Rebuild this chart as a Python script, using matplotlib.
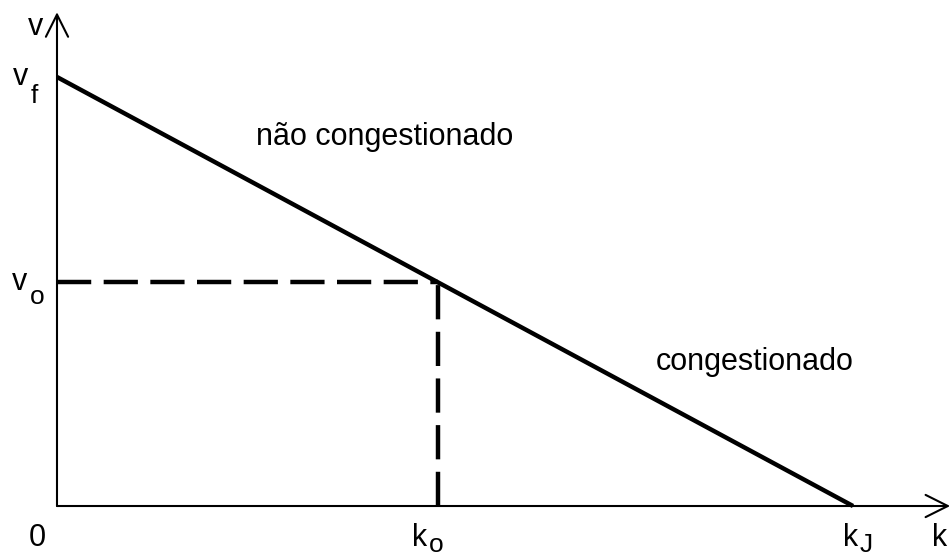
import matplotlib
matplotlib.use("Agg")
import matplotlib.pyplot as plt

plt.rcParams["font.family"] = ["Liberation Sans", "DejaVu Sans"]

# Greenshields model: speed falls linearly with density
v_f = 1.0      # free-flow speed
k_J = 1.0      # jam density
k_o = 0.479    # optimum density
v_o = v_f * (1 - k_o / k_J)

line_k = [0, k_J]
line_v = [v_f, 0]

x_axis_end = 1.122
y_axis_end = 1.151

fig = plt.figure(figsize=(9.53, 5.58), dpi=100)
ax = fig.add_axes([0, 0, 1, 1])
ax.set_xlim(-0.0716, 1.1256)
ax.set_ylim(-0.1212, 1.1795)
ax.axis("off")

# axes with open arrowheads
arrow = dict(arrowstyle="->,head_length=1.6,head_width=0.8", color="black",
             lw=1.5, shrinkA=0, shrinkB=0, mutation_scale=10)
ax.annotate("", xy=(x_axis_end, 0), xytext=(0, 0), arrowprops=arrow)
ax.annotate("", xy=(0, y_axis_end), xytext=(0, 0), arrowprops=arrow)

# speed-density line
lw = 3.2
ax.plot(line_k, line_v, color="black", lw=lw, solid_capstyle="butt")

# optimum point guides
dash = (0, (7.7, 2.8))
ax.plot([0, k_o], [v_o, v_o], color="black", lw=lw, linestyle=dash)
ax.plot([k_o, k_o], [0, v_o], color="black", lw=lw, linestyle=dash)

fs = 22
sub_fs = 19


def label(x, y, base, sub=None, ha="right", drop=12):
    ax.text(x, y, base, fontsize=fs, ha=ha, va="baseline")
    if sub:
        ax.annotate(sub, xy=(x, y), xytext=(1.5, -drop), textcoords="offset points",
                    fontsize=sub_fs, ha="left", va="baseline")


label(-0.0276, 1.098, "v", ha="center")
label(-0.036, 0.981, "v", "f", drop=13)
label(-0.037, 0.503, "v", "o", drop=10)
label(-0.025, -0.094, "0", ha="center")
label(0.465, -0.094, "k", "o", drop=4)
label(1.006, -0.094, "k", "J", drop=4)
label(1.109, -0.094, "k", ha="center")

ax.text(0.412, 0.86, "não congestionado", fontsize=fs, ha="center", va="center")
ax.text(0.876, 0.335, "congestionado", fontsize=fs, ha="center", va="center")

fig.savefig("out.png", dpi=100)
